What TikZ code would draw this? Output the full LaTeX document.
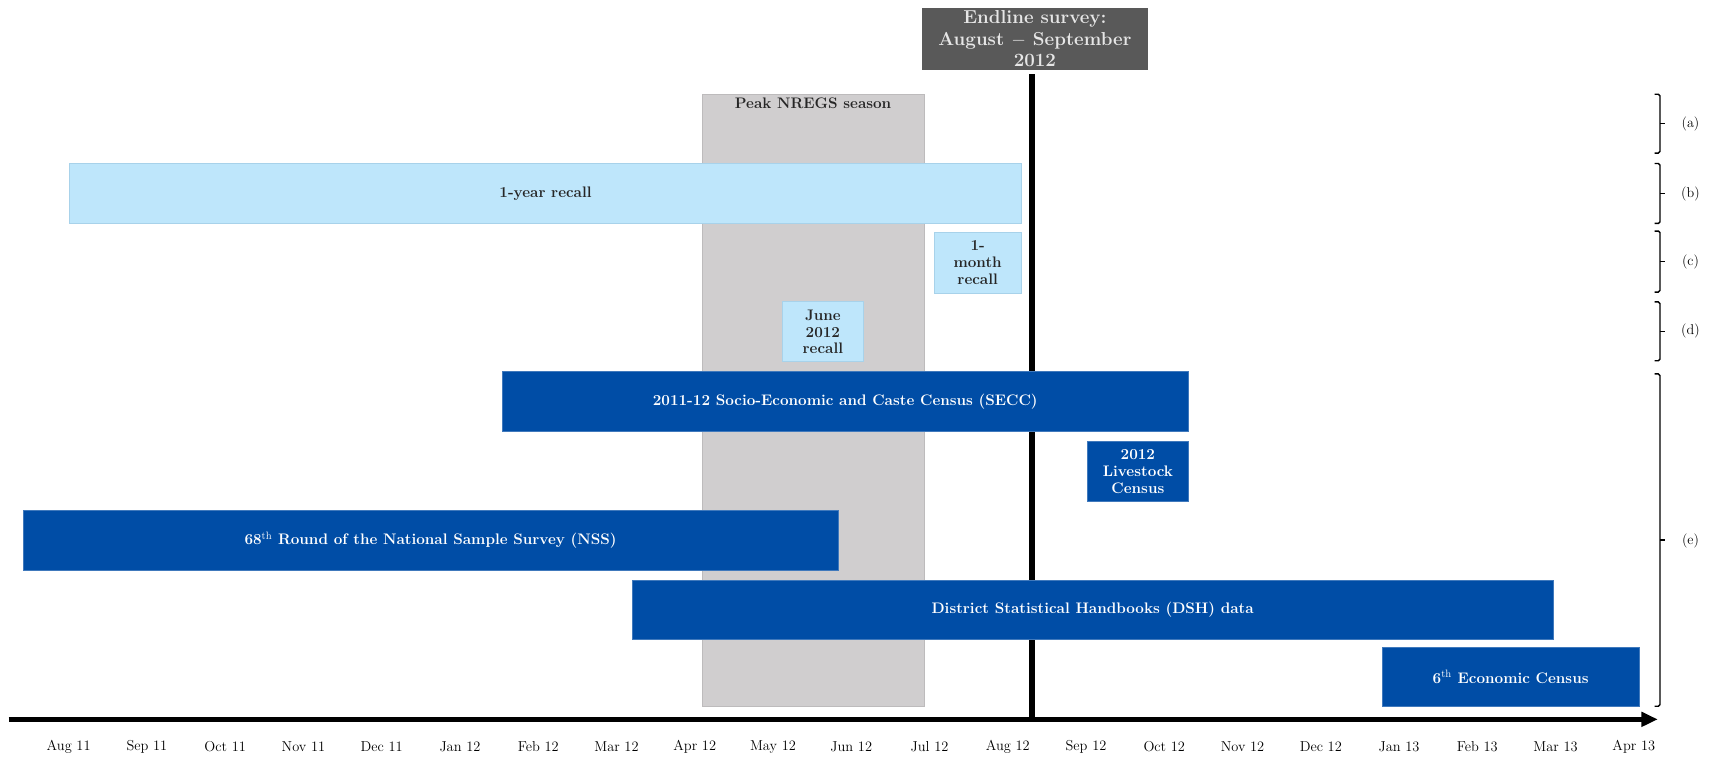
\documentclass[tikz,border=0pt]{standalone}
\usetikzlibrary{arrows.meta,calc}
\definecolor{dblue}{HTML}{004DA6}
\definecolor{lblue}{HTML}{BEE6FB}
\definecolor{lbluedraw}{HTML}{A8D2EA}
\definecolor{peakgray}{HTML}{D0CECF}
\definecolor{peakdraw}{HTML}{BDBBBC}
\definecolor{endgray}{HTML}{595959}
\definecolor{endtext}{HTML}{E6E6E6}
\begin{document}
\begin{tikzpicture}[x=1pt,y=-1pt,
  box/.style={rectangle, inner sep=0pt, align=center, font=\fontsize{14}{15.5}\selectfont\bfseries},
  lbox/.style={box, fill=lblue, draw=lbluedraw, line width=0.8pt, text=black!85},
  dbox/.style={box, fill=dblue, draw=dblue!75!white, line width=0.6pt, text=white},
  month/.style={font=\fontsize{13.2}{15}\selectfont, inner sep=0pt},
  lab/.style={font=\fontsize{13}{15}\selectfont, inner sep=0pt},
  brc/.style={line width=1.3pt, rounded corners=1.5pt}]
\useasboundingbox (0,0) rectangle (1568,696.4);
% peak season
\node[fill=peakgray, draw=peakdraw, line width=0.6pt, minimum width=204pt, minimum height=561pt, inner sep=0pt] (peak) at (746,367.5) {};
\node[box, anchor=north, text=black!85] (peaklab) at (746,89.5) {Peak NREGS season};
% endline
\node[box, fill=endgray, text=endtext, minimum width=207pt, minimum height=57pt, font=\fontsize{17.2}{19.8}\selectfont\bfseries] (endl) at (949.5,35.5) {Endline survey:\\August $-$ September\\2012};
\coordinate (vtop) at (947,68);
\coordinate (vbot) at (947,660);
\draw[line width=6pt] (vtop) -- (vbot);
% light blue boxes
\node[lbox, minimum width=873pt, minimum height=55pt] (oneyear) at (500.5,177.5) {1-year recall};
\node[lbox, minimum width=80pt, minimum height=56pt] (onemonth) at (897,241) {1-\\month\\recall};
\node[lbox, minimum width=74pt, minimum height=55pt] (june) at (755,304.5) {June\\2012\\recall};
% dark blue boxes
\node[dbox, minimum width=629pt, minimum height=55pt] (secc) at (775.5,368.5) {2011-12 Socio-Economic and Caste Census (SECC)};
\node[dbox, minimum width=92pt, minimum height=55pt] (live) at (1044,432.5) {2012\\Livestock\\Census};
\node[dbox, minimum width=748pt, minimum height=55pt] (nss) at (395,495.5) {68\textsuperscript{\mdseries th} Round of the National Sample Survey (NSS)};
\node[dbox, minimum width=845pt, minimum height=55pt] (dsh) at (1002.5,559.5) {District Statistical Handbooks (DSH) data};
\node[dbox, minimum width=236pt, minimum height=54pt] (ec) at (1386,621) {6\textsuperscript{\mdseries th} Economic Census};
% axis
\coordinate (a0) at (8,660);
\coordinate (a1) at (1521,660);
\draw[line width=4.5pt, -{Triangle[length=15pt,width=13pt]}] (a0) -- (a1);
\foreach \m [count=\i from 0] in {Aug 11,Sep 11,Oct 11,Nov 11,Dec 11,Jan 12,Feb 12,Mar 12,Apr 12,May 12,Jun 12,Jul 12,Aug 12,Sep 12,Oct 12,Nov 12,Dec 12,Jan 13,Feb 13,Mar 13,Apr 13}
  \node[month] (m\i) at (63+71.8*\i,685) {\m};
% brackets
\foreach \nm/\t/\b in {a/86.5/140.5, b/150/205, c/212/268, d/277/331, e/343/648} {
  \coordinate (r\nm1) at (1523,\t);
  \coordinate (r\nm2) at (1523,\b);
  \draw[brc] ([xshift=-5pt]r\nm1) -- (r\nm1) -- (r\nm2) -- ([xshift=-5pt]r\nm2);
  \draw[line width=1.3pt] ($(r\nm1)!0.5!(r\nm2)$) -- ++(5,0);
}
\node[lab] (la) at (1551,114) {(a)};
\node[lab] (lb) at (1551,178) {(b)};
\node[lab] (lc) at (1551,240) {(c)};
\node[lab] (ld) at (1551,304) {(d)};
\node[lab] (le) at (1551,496) {(e)};
\end{tikzpicture}
\end{document}
